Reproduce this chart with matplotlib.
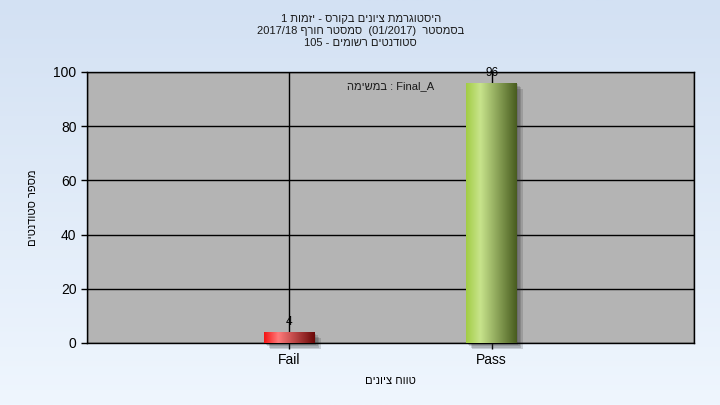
import re

import numpy as np
import matplotlib
matplotlib.use("Agg")
import matplotlib.pyplot as plt
from matplotlib.colors import LinearSegmentedColormap
from matplotlib.patches import Rectangle
from matplotlib.transforms import ScaledTranslation

# Chart data
title_lines = [
    "היסטוגרמת ציונים בקורס - יזמות 1",
    "בסמסטר  (01/2017)  סמסטר חורף 2017/18",
    "סטודנטים רשומים - 105",
]
task_label = "במשימה : Final_A"
categories = ["Fail", "Pass"]
counts = [4, 96]
x_label = "טווח ציונים"
y_label = "מספר סטודנטים"
y_ticks = [0, 20, 40, 60, 80, 100]

bar_colors = [
    ["#f41414", "#ff7a7a", "#6a0808"],
    ["#a2cc44", "#c8e48c", "#485c1e"],
]


# matplotlib has no bidi support, so put RTL text in visual order by hand
def rtl(text):
    rev = text[::-1]
    rev = re.sub(r"[0-9A-Za-z][0-9A-Za-z_./]*[0-9A-Za-z]|[0-9A-Za-z]",
                 lambda m: m.group(0)[::-1], rev)
    return rev.translate(str.maketrans("()", ")("))


def ltr_mixed(text):
    return re.sub(r"[\u0590-\u05FF]+(?:\s+[\u0590-\u05FF]+)*",
                  lambda m: m.group(0)[::-1], text)


plt.rcParams['font.family'] = ['Liberation Sans', 'DejaVu Sans']

fig = plt.figure(figsize=(7.2, 4.05), dpi=100)

# Background gradient
bg = fig.add_axes([0, 0, 1, 1], zorder=-10)
bg_cmap = LinearSegmentedColormap.from_list("bg", ["#d3e1f3", "#eff6fe"])
bg.imshow(np.linspace(0, 1, 256).reshape(-1, 1), cmap=bg_cmap,
          aspect='auto', extent=[0, 1, 0, 1])
bg.set_axis_off()

ax = fig.add_axes([87 / 720, 1 - 343 / 405, 607 / 720, 271 / 405])
ax.set_facecolor("#b4b4b4")

x = np.arange(1, len(categories) + 1)
width = 0.25

# Soft drop shadows, a few stacked offset copies
for xi, c in zip(x, counts):
    for off in [0.015, 0.03, 0.045, 0.06]:
        sh = Rectangle((xi - width / 2, 0), width, c, facecolor="#303030",
                       edgecolor='none', alpha=0.18, zorder=2, clip_on=False,
                       transform=ax.transData + ScaledTranslation(
                           off, -off, fig.dpi_scale_trans))
        ax.add_patch(sh)

bars = ax.bar(x, counts, width=width, color='none', edgecolor='none', zorder=3)
grad = np.linspace(0, 1, 256).reshape(1, -1)
for b, cols in zip(bars, bar_colors):
    cmap = LinearSegmentedColormap.from_list(
        "bar", [(0, cols[0]), (0.28, cols[1]), (1, cols[2])])
    im = ax.imshow(grad, cmap=cmap, aspect='auto', zorder=3,
                   extent=[b.get_x(), b.get_x() + b.get_width(), 0, b.get_height()])
    im.set_clip_path(b)

for xi, c in zip(x, counts):
    ax.annotate(str(c), (xi, c), xytext=(0, 3), textcoords='offset points',
                ha='center', va='bottom', fontsize=8.5, zorder=5)

ax.set_xlim(0, len(categories) + 1)
ax.set_ylim(0, 100)
ax.set_xticks(x)
ax.set_xticklabels(categories)
ax.set_yticks(y_ticks)
ax.set_xticks(np.arange(0, len(categories) + 2), minor=True)
ax.grid(True, which='major', color='black', lw=1, zorder=1)
ax.grid(True, which='minor', axis='x', color='black', lw=1, zorder=1)
ax.set_axisbelow(True)
ax.tick_params(axis='both', which='major', direction='out', length=4.5,
               width=1, color='black', labelsize=10, pad=3)
ax.tick_params(axis='x', which='minor', length=0)
for s in ax.spines.values():
    s.set_color('black')
    s.set_linewidth(1)

ax.text(0.5, 0.948, ltr_mixed(task_label), transform=ax.transAxes,
        ha='center', va='center', fontsize=8, color='#1a1a1a', zorder=6)

ax.set_xlabel(rtl(x_label), fontsize=8)
ax.xaxis.set_label_coords(0.5, -0.12)
ax.set_ylabel(rtl(y_label), fontsize=8)
ax.yaxis.set_label_coords(-0.08, 0.5)

for i, line in enumerate(title_lines):
    fig.text(0.501, 1 - (18.5 + 12 * i) / 405, rtl(line), ha='center',
             va='center', fontsize=8, color='#1a1a1a')

fig.savefig("out.png", dpi=100)
